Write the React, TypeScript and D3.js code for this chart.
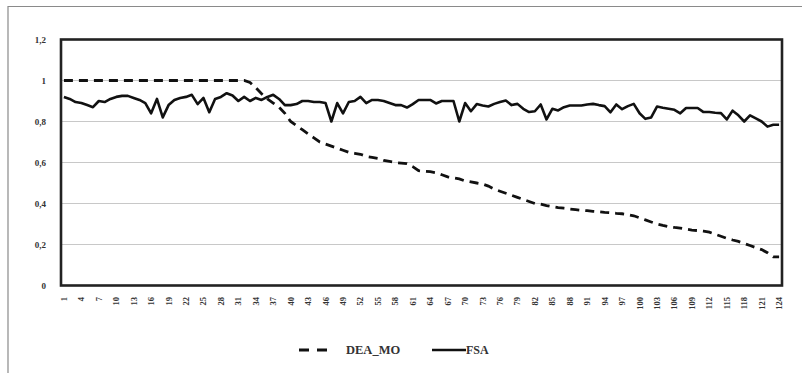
import React, { useEffect, useRef } from "react";
import * as d3 from "d3";

// categories 1..124
const categories: number[] = Array.from({ length: 124 }, (_, i) => i + 1);

const deaMo: number[] = [
  1, 1, 1, 1, 1, 1, 1, 1, 1, 1,
  1, 1, 1, 1, 1, 1, 1, 1, 1, 1,
  1, 1, 1, 1, 1, 1, 1, 1, 1, 1,
  1, 1, 0.99, 0.965, 0.935, 0.91, 0.89, 0.87, 0.84, 0.8,
  0.78, 0.76, 0.74, 0.72, 0.7, 0.69, 0.68, 0.67, 0.66, 0.65,
  0.645, 0.64, 0.63, 0.625, 0.62, 0.61, 0.605, 0.6, 0.597, 0.594,
  0.58, 0.56, 0.557, 0.555, 0.55, 0.54, 0.53, 0.525, 0.52, 0.51,
  0.505, 0.5, 0.495, 0.485, 0.47, 0.46, 0.45, 0.44, 0.43, 0.42,
  0.41, 0.4, 0.397, 0.39, 0.385, 0.38, 0.377, 0.373, 0.37, 0.367,
  0.365, 0.362, 0.36, 0.357, 0.355, 0.352, 0.35, 0.346, 0.34, 0.33,
  0.32, 0.31, 0.3, 0.293, 0.287, 0.283, 0.28, 0.275, 0.27, 0.268,
  0.265, 0.26, 0.25, 0.24, 0.23, 0.222, 0.215, 0.205, 0.195, 0.185,
  0.175, 0.16, 0.14, 0.14,
];

const fsa: number[] = [
  0.92, 0.91, 0.895, 0.89, 0.88, 0.87, 0.9, 0.895, 0.91, 0.92,
  0.925, 0.925, 0.915, 0.905, 0.89, 0.84, 0.91, 0.82, 0.88, 0.905,
  0.915, 0.92, 0.93, 0.885, 0.915, 0.845, 0.91, 0.92, 0.938, 0.927,
  0.9, 0.92, 0.9, 0.915, 0.905, 0.92, 0.93, 0.91, 0.88, 0.88,
  0.885, 0.9, 0.9, 0.895, 0.895, 0.89, 0.8, 0.89, 0.84, 0.895,
  0.9, 0.92, 0.89, 0.905, 0.905, 0.9, 0.89, 0.88, 0.88, 0.868,
  0.885, 0.905, 0.905, 0.905, 0.888, 0.9, 0.9, 0.9, 0.8, 0.89,
  0.85, 0.885, 0.878, 0.873, 0.886, 0.895, 0.902, 0.88, 0.886, 0.862,
  0.846, 0.85, 0.883, 0.81, 0.862, 0.854, 0.87, 0.878, 0.878, 0.878,
  0.883, 0.886, 0.88, 0.875, 0.845, 0.883, 0.86, 0.875, 0.886, 0.84,
  0.813, 0.82, 0.873, 0.867, 0.862, 0.857, 0.84, 0.866, 0.866, 0.866,
  0.846, 0.846, 0.843, 0.841, 0.81, 0.853, 0.83, 0.8, 0.83, 0.815,
  0.8, 0.775, 0.784, 0.784,
];

const yTicks: number[] = [0, 0.2, 0.4, 0.6, 0.8, 1, 1.2];

const W = 802;
const H = 373;
const FONT = "'Liberation Serif', 'DejaVu Serif', serif";

const App = () => {
  const ref = useRef<SVGSVGElement>(null);

  useEffect(() => {
    const svg = d3.select(ref.current);
    svg.selectAll("*").remove();

    const x = d3.scaleBand<number>().domain(categories).range([61, 782]);
    const y = d3.scaleLinear().domain([0, 1.2]).range([285.5, 39.5]);
    const cx = (d: number) => (x(d) as number) + x.bandwidth() / 2;

    // outer frame, only top and left edges are in view
    svg.append("path")
      .attr("d", `M8,${H} V6.5 H${W}`)
      .attr("fill", "none").attr("stroke", "#8a8a8a").attr("stroke-width", 1.2);

    // gridlines
    svg.append("g")
      .selectAll("line")
      .data(yTicks.slice(1, -1))
      .join("line")
      .attr("x1", 61).attr("x2", 782)
      .attr("y1", d => y(d)).attr("y2", d => y(d))
      .attr("stroke", "#c8c8c8").attr("stroke-width", 1.2);

    // y labels
    svg.append("g")
      .selectAll("text")
      .data(yTicks)
      .join("text")
      .attr("x", 46)
      .attr("y", d => y(d) + 3)
      .attr("text-anchor", "end")
      .style("font-family", FONT)
      .style("font-weight", "bold")
      .style("font-size", "9px")
      .attr("fill", "#333")
      .text(d => String(d).replace(".", ","));

    // x labels (every 3rd)
    svg.append("g")
      .selectAll("text")
      .data(categories.filter(d => (d - 1) % 3 === 0))
      .join("text")
      .attr("transform", d => `translate(${cx(d) + 3},297) rotate(-90)`)
      .attr("text-anchor", "end")
      .style("font-family", FONT)
      .style("font-weight", "bold")
      .style("font-size", "8.5px")
      .attr("fill", "#333")
      .text(d => d);

    const line = d3.line<number>()
      .x((_, i) => cx(categories[i]))
      .y(d => y(d));

    svg.append("path")
      .datum(deaMo)
      .attr("d", line)
      .attr("fill", "none")
      .attr("stroke", "#111")
      .attr("stroke-width", 2.8)
      .attr("stroke-dasharray", "9,6");

    svg.append("path")
      .datum(fsa)
      .attr("d", line)
      .attr("fill", "none")
      .attr("stroke", "#111")
      .attr("stroke-width", 2.6)
      .attr("stroke-linejoin", "round");

    // plot frame
    svg.append("rect")
      .attr("x", 61).attr("y", 39.5)
      .attr("width", 721).attr("height", 246)
      .attr("fill", "none").attr("stroke", "#222").attr("stroke-width", 2.6);

    // legend
    const lg = svg.append("g");
    lg.append("line")
      .attr("x1", 299).attr("x2", 334).attr("y1", 350).attr("y2", 350)
      .attr("stroke", "#111").attr("stroke-width", 2.8)
      .attr("stroke-dasharray", "10,8");
    lg.append("text")
      .attr("x", 346).attr("y", 354)
      .style("font-family", FONT).style("font-weight", "bold").style("font-size", "12.5px")
      .attr("fill", "#333")
      .text("DEA_MO");
    lg.append("line")
      .attr("x1", 432).attr("x2", 466).attr("y1", 350).attr("y2", 350)
      .attr("stroke", "#111").attr("stroke-width", 2.4);
    lg.append("text")
      .attr("x", 466).attr("y", 354)
      .style("font-family", FONT).style("font-weight", "bold").style("font-size", "12px")
      .attr("fill", "#333")
      .text("FSA");
  }, []);

  return <svg ref={ref} width={W} height={H} style={{ position: "absolute", left: 0, top: 0, background: "#fff" }} />;
};

export default App;
